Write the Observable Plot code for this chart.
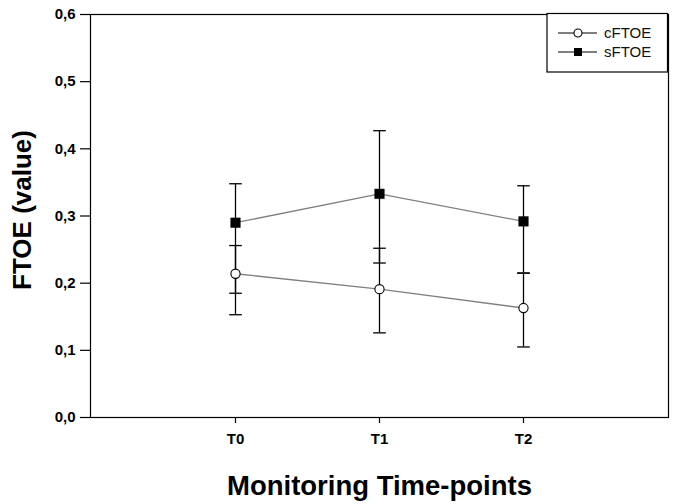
<!DOCTYPE html>
<html>
<head>
<meta charset="utf-8">
<script src="https://cdn.jsdelivr.net/npm/d3@7"></script>
<script src="https://cdn.jsdelivr.net/npm/@observablehq/plot@0.6"></script>
<style>
  html, body { margin: 0; padding: 0; background: #fff; }
</style>
</head>
<body>
<div id="chart"></div>
<script>
// ---- data ----
const times = ["T0", "T1", "T2"];
const seriesNames = ["cFTOE", "sFTOE"];
const cMean = [0.214, 0.191, 0.163];
const cLow  = [0.153, 0.126, 0.105];
const cHigh = [0.256, 0.252, 0.215];
const sMean = [0.290, 0.333, 0.292];
const sLow  = [0.185, 0.230, 0.215];
const sHigh = [0.348, 0.427, 0.345];
const yTicks = [0, 0.1, 0.2, 0.3, 0.4, 0.5, 0.6];
const xTitle = "Monitoring Time-points";
const yTitle = "FTOE (value)";

const rows = [];
times.forEach((t, i) => {
  rows.push({series: "cFTOE", time: t, mean: cMean[i], low: cLow[i], high: cHigh[i]});
  rows.push({series: "sFTOE", time: t, mean: sMean[i], low: sLow[i], high: sHigh[i]});
});
const cRows = rows.filter(d => d.series === "cFTOE");
const sRows = rows.filter(d => d.series === "sFTOE");

// horizontal cap symbol for error bars
const capSymbol = {
  draw(ctx, size) {
    const w = Math.sqrt(size / Math.PI);
    ctx.moveTo(-w, 0);
    ctx.lineTo(w, 0);
  }
};

const font = "'Liberation Sans', Arial, Helvetica, sans-serif";
const fmt = d => d.toFixed(1).replace(".", ",");

const svg = Plot.plot({
  width: 676,
  height: 504,
  marginLeft: 90,
  marginRight: 8,
  marginTop: 14,
  marginBottom: 87,
  style: {fontFamily: font, fontSize: "15px", fontWeight: "bold", color: "#000", background: "#fff"},
  x: {type: "point", domain: times, padding: 1},
  y: {domain: [0, 0.6]},
  marks: [
    Plot.frame({stroke: "#000", strokeWidth: 1.2}),
    Plot.axisY({ticks: yTicks, tickFormat: fmt, tickSize: 10, tickPadding: 5,
                fontSize: 15, fontWeight: "bold", label: null, strokeWidth: 1.2}),
    Plot.axisX({tickSize: 6, tickPadding: 10, fontSize: 15, fontWeight: "bold",
                label: null, strokeWidth: 1.2}),
    // error bars
    Plot.ruleX(rows, {x: "time", y1: "low", y2: "high", stroke: "#000", strokeWidth: 1.3}),
    Plot.dot(rows, {x: "time", y: "low", symbol: capSymbol, r: 6.3, stroke: "#000", fill: "none", strokeWidth: 1.3}),
    Plot.dot(rows, {x: "time", y: "high", symbol: capSymbol, r: 6.3, stroke: "#000", fill: "none", strokeWidth: 1.3}),
    // connecting lines
    Plot.line(cRows, {x: "time", y: "mean", stroke: "#808080", strokeWidth: 1.3}),
    Plot.line(sRows, {x: "time", y: "mean", stroke: "#808080", strokeWidth: 1.3}),
    // markers
    Plot.dot(cRows, {x: "time", y: "mean", symbol: "circle", r: 4.6, fill: "#fff", stroke: "#000", strokeWidth: 1.1}),
    Plot.dot(sRows, {x: "time", y: "mean", symbol: "square", r: 5.4, fill: "#000", stroke: "#000", strokeWidth: 0.5}),
    // axis titles
    Plot.text([yTitle], {frameAnchor: "left", textAnchor: "middle", dx: -68, dy: -6, rotate: -90,
                         fontSize: 26, fontWeight: "bold", fill: "#000"}),
    Plot.text([xTitle], {frameAnchor: "bottom", textAnchor: "middle", dy: 77,
                         fontSize: 27.5, fontWeight: "bold", fill: "#000"})
  ]
});

// enforce tick label font
d3.select(svg).selectAll('g[aria-label$="tick label"]')
  .style("font-size", "15px").style("font-weight", "bold");

// legend box (top-right, inside frame)
const g = d3.select(svg).append("g")
  .attr("font-family", font).attr("font-weight", "normal").attr("text-anchor", "start");
g.append("rect").attr("x", 547).attr("y", 13.5).attr("width", 120.5).attr("height", 58.5)
  .attr("fill", "#fff").attr("stroke", "#000").attr("stroke-width", 1.2);
const legendY = [33, 52];
seriesNames.forEach((name, i) => {
  const y = legendY[i];
  g.append("line").attr("x1", 558).attr("x2", 597).attr("y1", y).attr("y2", y)
    .attr("stroke", "#000").attr("stroke-width", 1.2);
  if (name === "cFTOE") {
    g.append("circle").attr("cx", 578).attr("cy", y).attr("r", 4)
      .attr("fill", "#fff").attr("stroke", "#000").attr("stroke-width", 1.1);
  } else {
    g.append("rect").attr("x", 574).attr("y", y - 4).attr("width", 8).attr("height", 8)
      .attr("fill", "#000");
  }
  g.append("text").attr("x", 604).attr("y", y).attr("dy", "0.36em")
    .attr("font-size", 15).attr("fill", "#111").text(name);
});

document.getElementById("chart").append(svg);
</script>
</body>
</html>
